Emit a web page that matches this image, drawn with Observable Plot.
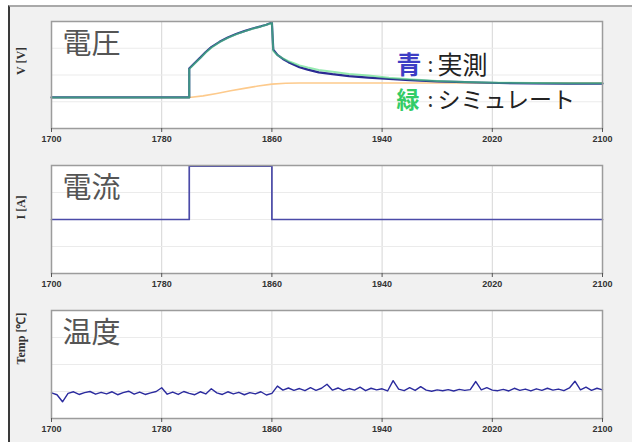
<!DOCTYPE html>
<html><head><meta charset="utf-8">
<script src="https://cdn.jsdelivr.net/npm/d3@7"></script>
<script src="https://cdn.jsdelivr.net/npm/@observablehq/plot@0.6"></script>
<style>
body{margin:0;background:#fff;width:632px;height:442px;overflow:hidden;position:relative;font-family:"Noto Sans CJK JP",sans-serif}
#bg{position:absolute;left:8px;top:5px;width:624px;height:437px;background:#f1f1f1;border-top:2px solid #a9a9a9;border-left:2px solid #3a3a3a;box-sizing:border-box}
.p{position:absolute;left:0}
.p svg{overflow:visible;display:block}
</style></head><body><div id="bg"></div>
<div id="p1" class="p" style="top:0"></div>
<div id="p2" class="p" style="top:145px"></div>
<div id="p3" class="p" style="top:290px"></div>
<script>
const xTicks = [1700, 1780, 1860, 1940, 2020, 2100];
const titles = ["電圧", "電流", "温度"];
const yLabels = ["V [V]", "I [A]", "Temp [℃]"];

const voltTime = [1700, 1800, 1800, 1804, 1808, 1812, 1816, 1822, 1828, 1834, 1840, 1846, 1852, 1856, 1860, 1861, 1864, 1868, 1872, 1876, 1880, 1886, 1894, 1904, 1916, 1930, 1945, 1960, 1980, 2000, 2025, 2050, 2075, 2100];
const voltMeasured = [1.16, 1.16, 2.24, 2.45, 2.65, 2.86, 3.04, 3.24, 3.40, 3.53, 3.64, 3.74, 3.82, 3.88, 3.96, 2.95, 2.75, 2.60, 2.48, 2.38, 2.29, 2.20, 2.10, 2.03, 1.96, 1.90, 1.85, 1.81, 1.76, 1.73, 1.70, 1.69, 1.68, 1.68];
const voltSimulated = [1.16, 1.16, 2.22, 2.43, 2.63, 2.84, 3.02, 3.23, 3.39, 3.52, 3.63, 3.73, 3.81, 3.88, 3.95, 2.90, 2.74, 2.62, 2.52, 2.44, 2.36, 2.28, 2.19, 2.12, 2.04, 1.98, 1.90, 1.84, 1.78, 1.74, 1.71, 1.70, 1.69, 1.69];
const ocvTime = [1700, 1800, 1810, 1820, 1830, 1840, 1850, 1860, 1870, 1880, 1900, 2100];
const ocvValue = [1.16, 1.16, 1.22, 1.31, 1.41, 1.50, 1.59, 1.66, 1.69, 1.70, 1.70, 1.70];

const curTime = [1700, 1800, 1800, 1860, 1860, 2100];
const curValue = [2, 2, 3.98, 3.98, 2, 2];

const tempTime = [1700,1704,1708,1712,1716,1720,1724,1728,1732,1736,1740,1744,1748,1752,1756,1760,1764,1768,1772,1776,1780,1784,1788,1792,1796,1800,1804,1808,1812,1816,1820,1824,1828,1832,1836,1840,1844,1848,1852,1856,1860,1864,1868,1872,1876,1880,1884,1888,1892,1896,1900,1904,1908,1912,1916,1920,1924,1928,1932,1936,1940,1944,1948,1952,1956,1960,1964,1968,1972,1976,1980,1984,1988,1992,1996,2000,2004,2008,2012,2016,2020,2024,2028,2032,2036,2040,2044,2048,2052,2056,2060,2064,2068,2072,2076,2080,2084,2088,2092,2096,2100];
const tempValue = [
  0.95,0.88,0.62,0.93,0.99,0.89,0.96,1.00,0.90,0.97,
  0.91,0.99,0.88,0.96,1.01,0.90,0.98,0.89,0.95,1.00,
  1.14,0.90,0.98,0.89,1.00,0.93,0.88,0.99,0.91,1.10,
  0.95,0.89,0.99,0.91,0.97,0.88,0.96,0.91,0.99,0.87,
  0.93,1.20,
  1.05,1.13,1.04,1.11,1.03,1.14,1.04,1.12,1.27,1.05,
  1.13,1.03,1.11,1.05,1.16,1.03,1.12,1.06,1.10,1.02,
  1.40,1.09,1.03,1.14,1.04,1.18,1.05,1.01,1.06,1.03,
  1.07,1.02,1.08,1.04,1.07,1.37,1.06,1.14,1.05,1.03,
  1.08,1.02,1.12,1.04,1.09,1.02,1.10,1.04,1.12,1.05,
  1.09,1.03,1.13,1.38,1.06,1.16,1.04,1.12,1.06
];

const legendKey = ["青", "緑"];
const legendText = ["実測", "シミュレート"];

const CJK = "Noto Sans CJK JP";

function panel(title, ylabel, mt, dataMarks) {
  return Plot.plot({
    width: 632, height: 145,
    marginLeft: 51, marginRight: 30, marginTop: mt, marginBottom: 17,
    style: {background: "transparent", overflow: "visible", fontFamily: "Liberation Sans"},
    x: {domain: [1700, 2100]},
    y: {domain: [0, 4], axis: null},
    marks: [
      Plot.frame({fill: "white"}),
      Plot.gridX(xTicks.slice(1, -1), {stroke: "#d6d6d6", strokeOpacity: 1}),
      Plot.gridY([1, 2, 3], {stroke: "#ebebeb", strokeOpacity: 1}),
      Plot.text([title], {frameAnchor: "top-left", dx: 11, dy: 12, fontSize: 29, fill: "#555", textAnchor: "start", lineAnchor: "top", fontFamily: CJK}),
      ...dataMarks,
      Plot.frame({stroke: "#9c9c9c", strokeWidth: 1.5}),
      Plot.axisX(xTicks, {tickSize: 4, tickPadding: 3, fontSize: 9, fontWeight: "bold", fill: "#333", stroke: "#555", label: null, tickFormat: d => String(d)}),
      Plot.text([ylabel], {frameAnchor: "left", dx: -30, rotate: -90, fontSize: 12, fontWeight: "bold", fill: "#333", fontFamily: "Liberation Serif"})
    ]
  });
}

const p1 = panel(titles[0], yLabels[0], 21, [
  Plot.line(ocvValue, {x: ocvTime, y: ocvValue, stroke: "#fdca8c", strokeWidth: 1.6}),
  Plot.line(voltMeasured, {x: voltTime, y: voltMeasured, stroke: "#2a2a92", strokeWidth: 2.2}),
  Plot.line(voltSimulated, {x: voltTime, y: voltSimulated, stroke: "#4fdc7c", strokeWidth: 2, strokeOpacity: 0.6}),
  Plot.text([legendKey[0]], {frameAnchor: "top-left", dx: 345, dy: 44, fontSize: 25, fontWeight: "bold", fill: "#3d3dc4", textAnchor: "start", lineAnchor: "middle", fontFamily: CJK}),
  Plot.text([":"], {frameAnchor: "top-left", dx: 379, dy: 44, fontSize: 21, fill: "#333", textAnchor: "middle", lineAnchor: "middle", fontFamily: CJK}),
  Plot.text([legendText[0]], {frameAnchor: "top-left", dx: 386, dy: 44, fontSize: 25, fill: "#222", textAnchor: "start", lineAnchor: "middle", fontFamily: CJK}),
  Plot.text([legendKey[1]], {frameAnchor: "top-left", dx: 345, dy: 79, fontSize: 23, fontWeight: "bold", fill: "#33cc66", textAnchor: "start", lineAnchor: "middle", fontFamily: CJK}),
  Plot.text([":"], {frameAnchor: "top-left", dx: 379, dy: 79, fontSize: 21, fill: "#333", textAnchor: "middle", lineAnchor: "middle", fontFamily: CJK}),
  Plot.text([legendText[1]], {frameAnchor: "top-left", dx: 386, dy: 79, fontSize: 23, fill: "#222", textAnchor: "start", lineAnchor: "middle", fontFamily: CJK})
]);
const p2 = panel(titles[1], yLabels[1], 20, [
  Plot.line(curValue, {x: curTime, y: curValue, stroke: "#4b4ba8", strokeWidth: 1.7})
]);
const p3 = panel(titles[2], yLabels[2], 20, [
  Plot.line(tempValue, {x: tempTime, y: tempValue, stroke: "#2b2b9e", strokeWidth: 1.4})
]);
document.getElementById("p1").append(p1);
document.getElementById("p2").append(p2);
document.getElementById("p3").append(p3);
</script>
</body></html>
